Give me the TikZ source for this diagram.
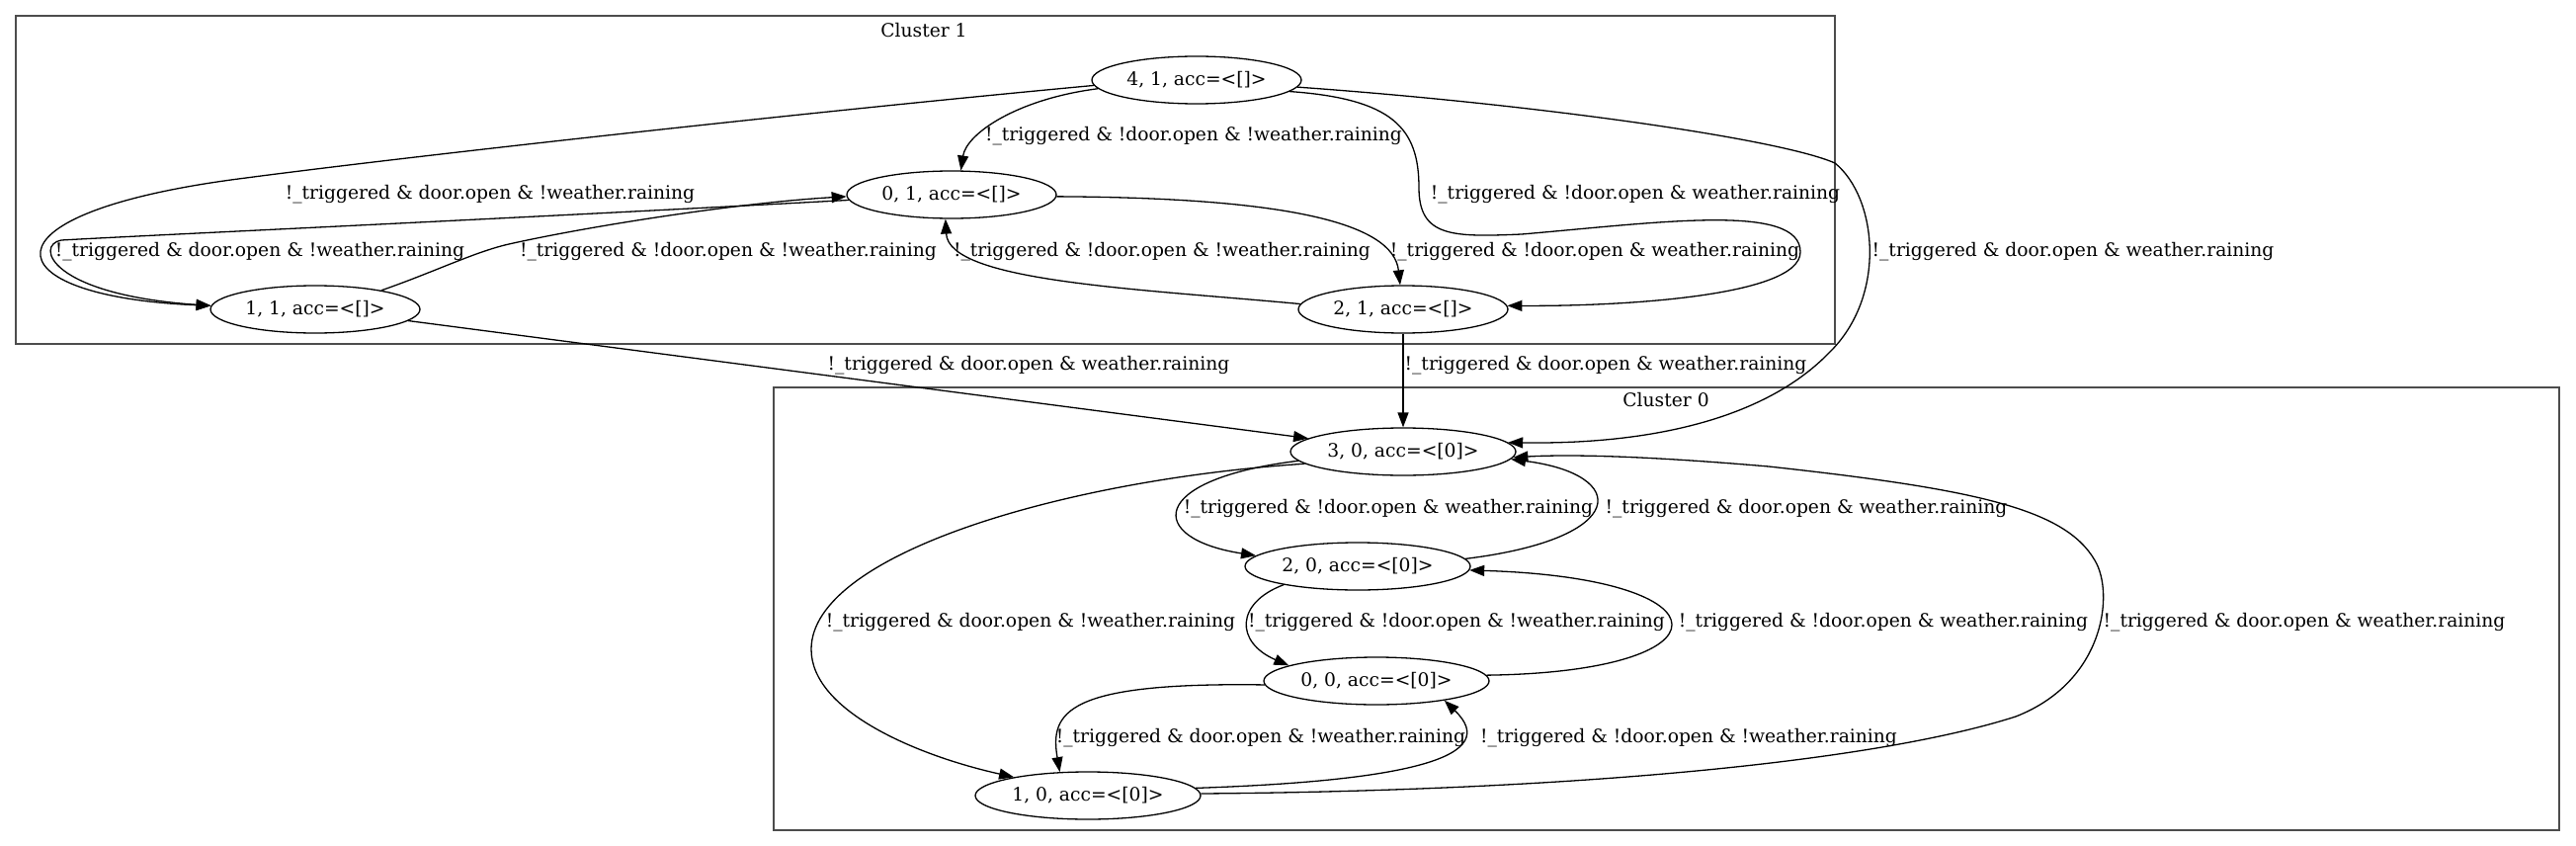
\documentclass[tikz,border=0pt]{standalone}
\usepackage{fontspec}
\setmainfont{DejaVu Serif}
\usetikzlibrary{arrows.meta,shapes.geometric}
\tikzset{
  state/.style={draw,ellipse,minimum width=212pt,minimum height=48pt,inner sep=0pt,line width=1.3pt},
  statez/.style={state,minimum width=228pt},
  trans/.style={line width=1.3pt,-{Triangle[length=15pt,width=11pt]}},
  lbl/.style={inner sep=0pt},
  cluster/.style={draw=black!70,line width=2pt}
}
\begin{document}
\begin{tikzpicture}[x=1pt,y=-1pt,font=\fontsize{18.7}{22}\selectfont]
\useasboundingbox (0,0) rectangle (2607,856);
% clusters
\draw [cluster] (16,16) rectangle (1857,348);
\node (c1) at (935,31) {Cluster 1};
\draw [cluster] (783,392) rectangle (2590,840);
\node (c0) at (1686,405) {Cluster 0};
% states
\node [state] (n41) at (1211,81) {4, 1, acc=<[]>};
\node [state] (n01) at (963,197) {0, 1, acc=<[]>};
\node [state] (n11) at (319,313) {1, 1, acc=<[]>};
\node [state] (n21) at (1420,313) {2, 1, acc=<[]>};
\node [statez] (n30) at (1420,457) {3, 0, acc=<[0]>};
\node [statez] (n20) at (1374,573) {2, 0, acc=<[0]>};
\node [statez] (n00) at (1393,689) {0, 0, acc=<[0]>};
\node [statez] (n10) at (1101,805) {1, 0, acc=<[0]>};
% cluster 1 transitions
\draw [trans] (n41.185) .. controls (1030,100) and (978,135) .. (n01.69);
\draw [trans] (n41.183) .. controls (800,115) and (400,160) .. (249,180) .. controls (-30,215) and (-10,300) .. (n11.178);
\draw [trans] (n01.183) .. controls (500,222) and (150,238) .. (62,243) .. controls (35,248) and (50,298) .. (n11.178);
\draw [trans] (n11.16) .. controls (440,275) and (480,255) .. (515,247) .. controls (600,228) and (750,205) .. (n01.181);
\draw [trans] (n01.359) .. controls (1300,200) and (1410,225) .. (n21.97);
\draw [trans] (n21.177) .. controls (1150,292) and (960,285) .. (n01.256);
\draw [trans] (n41.353) .. controls (1410,100) and (1436,130) .. (1436,190) .. controls (1436,240) and (1470,240) .. (1540,237) .. controls (1680,225) and (1822,205) .. (1822,255) .. controls (1822,300) and (1640,310) .. (n21.2);
\draw [trans] (n41.356) .. controls (1550,105) and (1800,140) .. (1857,165) .. controls (1900,200) and (1910,300) .. (1851,357) .. controls (1790,420) and (1680,450) .. (n30.5);
\draw [trans] (n11.353) -- (n30.172);
\draw [trans] (n21) -- (n30);
% cluster 0 transitions
\draw [trans] (n30.185) .. controls (1160,485) and (1160,545) .. (n20.174);
\draw [trans] (n20.4) .. controls (1650,545) and (1650,480) .. (n30.356);
\draw [trans] (n30.187) .. controls (1080,485) and (821,560) .. (821,657) .. controls (821,720) and (930,765) .. (n10.166);
\draw [trans] (n20.194) .. controls (1250,610) and (1250,650) .. (n00.170);
\draw [trans] (n00.3) .. controls (1755,680) and (1755,585) .. (n20.358);
\draw [trans] (n00.182) .. controls (1080,690) and (1062,720) .. (n10.140);
\draw [trans] (n10.4) .. controls (1430,790) and (1520,765) .. (n00.344);
\draw [trans] (n10.1) .. controls (1600,800) and (1900,770) .. (2040,725) .. controls (2130,690) and (2140,600) .. (2120,567) .. controls (2090,515) and (2000,495) .. (1790,472) .. controls (1650,460) and (1580,460) .. (n30.357);
% labels
\node [lbl] (l1) at (1208,138) {!\_triggered \& !door.open \& !weather.raining};
\node [lbl] (l2) at (1655,197) {!\_triggered \& !door.open \& weather.raining};
\node [lbl] (l3) at (496,197) {!\_triggered \& door.open \& !weather.raining};
\node [lbl] (l4) at (263,255) {!\_triggered \& door.open \& !weather.raining};
\node [lbl] (l5) at (737,255) {!\_triggered \& !door.open \& !weather.raining};
\node [lbl] (l6) at (1176,255) {!\_triggered \& !door.open \& !weather.raining};
\node [lbl] (l7) at (1614,255) {!\_triggered \& !door.open \& weather.raining};
\node [lbl] (l8) at (2098,255) {!\_triggered \& door.open \& weather.raining};
\node [lbl] (l9) at (1041,370) {!\_triggered \& door.open \& weather.raining};
\node [lbl] (l10) at (1625,370) {!\_triggered \& door.open \& weather.raining};
\node [lbl] (l11) at (1405,515) {!\_triggered \& !door.open \& weather.raining};
\node [lbl] (l12) at (1828,515) {!\_triggered \& door.open \& weather.raining};
\node [lbl] (l13) at (1043,630) {!\_triggered \& door.open \& !weather.raining};
\node [lbl] (l14) at (1474,630) {!\_triggered \& !door.open \& !weather.raining};
\node [lbl] (l15) at (1906,630) {!\_triggered \& !door.open \& weather.raining};
\node [lbl] (l16) at (2332,630) {!\_triggered \& door.open \& weather.raining};
\node [lbl] (l17) at (1276,747) {!\_triggered \& door.open \& !weather.raining};
\node [lbl] (l18) at (1709,747) {!\_triggered \& !door.open \& !weather.raining};
\end{tikzpicture}
\end{document}
